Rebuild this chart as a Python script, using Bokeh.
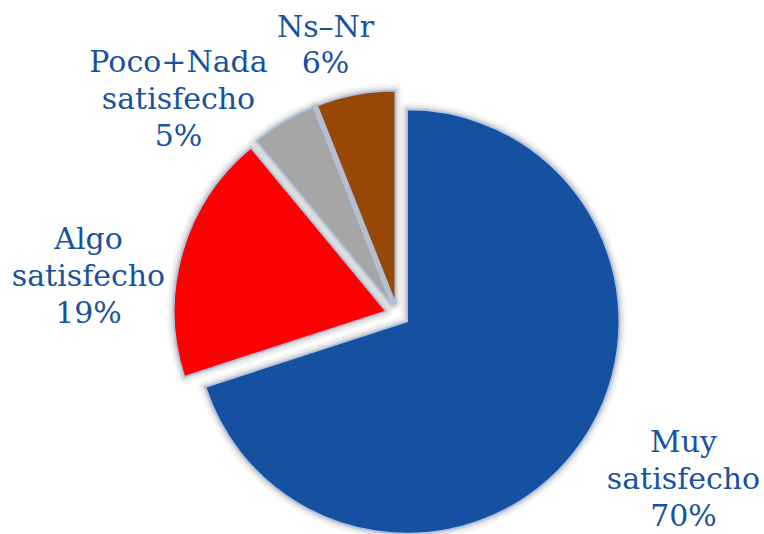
import math
from bokeh.plotting import figure
from bokeh.models import Range1d, ColumnDataSource
from bokeh.core.properties import value
from bokeh.embed import file_html
from bokeh.resources import INLINE

# ---- data ----
categories = ["Muy satisfecho", "Algo satisfecho", "Poco+Nada satisfecho", "Ns\u2013Nr"]
label_names = ["Muy\nsatisfecho", "Algo\nsatisfecho", "Poco+Nada\nsatisfecho", "Ns\u2013Nr"]
percents = [70, 19, 5, 6]
colors = ["#1551A0", "#FF0000", "#A6A6A6", "#974706"]

# ---- layout ----
W, H = 764, 534
cx, cy = 397, 220        # pie centre (data coords, y up)
radius = 212
explode = 12
label_xy = [(683, 56), (88, 259), (178, 436), (325, 490)]
text_color = "#17529E"

p = figure(width=W, height=H, output_backend="svg", toolbar_location=None,
           x_range=Range1d(0, W), y_range=Range1d(0, H), min_border=0)
p.axis.visible = False
p.grid.visible = False
p.outline_line_color = None
p.background_fill_color = "white"

total = sum(percents)
xs, ys, starts, ends = [], [], [], []
cum = 0.0
for v in percents:
    f0 = cum / total
    f1 = (cum + v) / total
    fm = (f0 + f1) / 2
    a = math.pi / 2 - 2 * math.pi * fm
    xs.append(cx + explode * math.cos(a))
    ys.append(cy + explode * math.sin(a))
    starts.append(math.pi / 2 - 2 * math.pi * f0)
    ends.append(math.pi / 2 - 2 * math.pi * f1)
    cum += v

src = ColumnDataSource(dict(x=xs, y=ys, start=starts, end=ends, color=colors))

# soft shadow approximation
for lw, al in [(14, 0.05), (10, 0.07), (6, 0.10), (3, 0.14)]:
    p.wedge(x="x", y="y", radius=radius, start_angle="start", end_angle="end",
            direction="clock", source=src, fill_color=None,
            line_color="#606060", line_alpha=al, line_width=lw, line_join="round")

p.wedge(x="x", y="y", radius=radius, start_angle="start", end_angle="end",
        direction="clock", source=src, fill_color="color",
        line_color="#A9C2E8", line_width=1.5, line_join="round")

texts = [f"{n}\n{v}%" for n, v in zip(label_names, percents)]
tsrc = ColumnDataSource(dict(x=[q[0] for q in label_xy], y=[q[1] for q in label_xy], t=texts))
p.text(x="x", y="y", text="t", source=tsrc, text_font=value("DejaVu Serif"),
       text_font_size="30px", text_color=text_color, text_align="center",
       text_baseline="middle", text_line_height=1.05)

open("out.html", "w").write(file_html(p, INLINE))
